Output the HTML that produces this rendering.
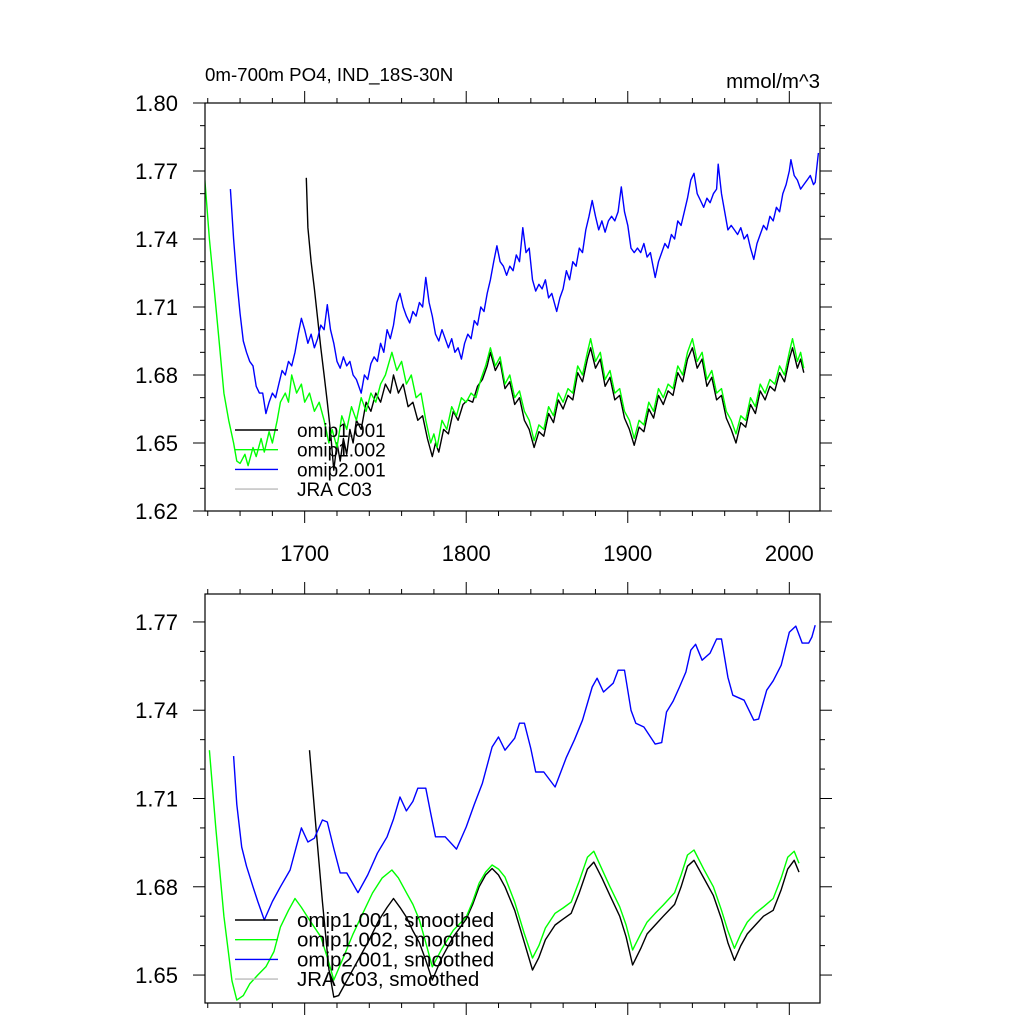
<!DOCTYPE html>
<html><head><meta charset="utf-8"><style>
body{margin:0;background:#fff}
svg{display:block;font-family:"Liberation Sans",sans-serif}
</style></head><body>
<svg id="chart" width="1024" height="1024" xmlns="http://www.w3.org/2000/svg">
<text x="205" y="81" font-size="18.7">0m-700m PO4, IND_18S-30N</text>
<text x="820" y="88" font-size="20.5" text-anchor="end">mmol/m^3</text>
</svg>
<script>
const xTickLabels=["1700","1800","1900","2000"];
const topYTicks=["1.62","1.65","1.68","1.71","1.74","1.77","1.80"];
const botYTicks=["1.65","1.68","1.71","1.74","1.77"];
const topLegend=["omip1.001","omip1.002","omip2.001","JRA C03"];
const botLegend=["omip1.001, smoothed","omip1.002, smoothed","omip2.001, smoothed","JRA C03, smoothed"];

const greenTopYears=[1638,1641,1644,1647,1650,1653,1656,1658,1660,1663,1665,1668,1670,1673,1675,1678,1680,1683,1685,1688,1690,1692,1695,1698,1700,1703,1706,1709,1712,1715,1717,1720,1723,1726,1729,1732,1735,1738,1741,1744,1747,1750,1754,1757,1760,1763,1766,1769,1772,1775,1778,1780,1782,1785,1788,1791,1794,1797,1800,1803,1806,1809,1812,1815,1818,1821,1824,1827,1830,1833,1836,1839,1842,1845,1848,1851,1854,1857,1860,1863,1866,1869,1872,1875,1877,1880,1883,1886,1889,1892,1895,1898,1901,1904,1907,1910,1913,1916,1919,1922,1925,1928,1931,1934,1937,1940,1943,1946,1949,1952,1955,1958,1961,1964,1967,1970,1973,1976,1979,1982,1985,1988,1991,1994,1997,2000,2002,2005,2007,2009];
const greenTopVals=[1.768,1.740,1.718,1.695,1.672,1.660,1.650,1.642,1.641,1.645,1.640,1.648,1.644,1.652,1.646,1.655,1.650,1.660,1.668,1.672,1.668,1.680,1.672,1.676,1.668,1.672,1.664,1.668,1.660,1.650,1.656,1.648,1.662,1.656,1.666,1.660,1.670,1.664,1.672,1.668,1.676,1.680,1.690,1.682,1.686,1.676,1.680,1.670,1.672,1.660,1.650,1.654,1.648,1.660,1.656,1.666,1.662,1.670,1.668,1.672,1.670,1.678,1.684,1.692,1.684,1.688,1.676,1.680,1.670,1.673,1.664,1.660,1.651,1.658,1.656,1.666,1.662,1.672,1.668,1.674,1.672,1.684,1.680,1.690,1.696,1.686,1.690,1.678,1.682,1.672,1.674,1.664,1.660,1.652,1.660,1.658,1.668,1.664,1.674,1.670,1.676,1.674,1.684,1.680,1.690,1.696,1.686,1.690,1.678,1.682,1.672,1.674,1.664,1.660,1.654,1.662,1.660,1.670,1.666,1.676,1.672,1.678,1.676,1.684,1.680,1.690,1.696,1.686,1.690,1.683];

const blackTopYears=[1701,1702,1704,1706,1708,1710,1712,1714,1716,1718,1720,1722,1724,1726,1728,1730,1732,1735,1738,1741,1744,1747,1750,1753,1755,1758,1761,1764,1767,1770,1773,1776,1779,1781,1783,1786,1789,1792,1795,1798,1801,1804,1807,1810,1813,1815,1818,1821,1824,1827,1830,1833,1836,1839,1842,1845,1848,1851,1854,1857,1860,1863,1866,1869,1872,1875,1877,1880,1883,1886,1889,1892,1895,1898,1901,1904,1907,1910,1913,1916,1919,1922,1925,1928,1931,1934,1937,1940,1943,1946,1949,1952,1955,1958,1961,1964,1967,1970,1973,1976,1979,1982,1985,1988,1991,1994,1997,2000,2002,2005,2007,2009];
const blackTopVals=[1.767,1.745,1.730,1.718,1.705,1.692,1.680,1.668,1.655,1.638,1.650,1.642,1.652,1.645,1.656,1.650,1.660,1.656,1.668,1.664,1.672,1.668,1.676,1.672,1.680,1.672,1.676,1.666,1.668,1.660,1.662,1.652,1.644,1.650,1.646,1.656,1.654,1.664,1.660,1.667,1.669,1.668,1.675,1.678,1.684,1.690,1.682,1.686,1.674,1.677,1.667,1.670,1.660,1.656,1.648,1.655,1.653,1.663,1.659,1.669,1.665,1.671,1.669,1.681,1.677,1.687,1.692,1.683,1.687,1.675,1.679,1.669,1.671,1.661,1.656,1.649,1.657,1.655,1.665,1.661,1.671,1.667,1.673,1.671,1.681,1.677,1.687,1.692,1.683,1.687,1.675,1.679,1.669,1.671,1.661,1.656,1.650,1.659,1.657,1.667,1.663,1.673,1.669,1.675,1.673,1.681,1.677,1.687,1.692,1.683,1.687,1.681];

const blueTopYears=[1654,1656,1658,1660,1662,1664,1666,1668,1670,1672,1674,1676,1678,1680,1682,1684,1686,1688,1690,1692,1694,1696,1698,1700,1702,1704,1706,1708,1710,1712,1714,1716,1718,1720,1722,1724,1726,1728,1730,1732,1735,1737,1739,1741,1743,1745,1747,1749,1751,1753,1755,1757,1759,1761,1763,1765,1767,1769,1771,1773,1775,1777,1779,1781,1783,1785,1787,1789,1791,1793,1795,1797,1799,1801,1803,1805,1807,1809,1811,1813,1815,1817,1819,1821,1823,1825,1827,1829,1831,1833,1835,1837,1839,1841,1843,1845,1847,1849,1851,1853,1856,1858,1860,1862,1864,1866,1868,1870,1872,1874,1876,1878,1880,1882,1884,1886,1888,1890,1892,1894,1896,1898,1900,1902,1904,1906,1908,1910,1912,1914,1917,1919,1921,1923,1925,1927,1929,1931,1933,1935,1937,1939,1941,1943,1945,1947,1949,1951,1953,1955,1956,1958,1960,1962,1964,1966,1968,1970,1972,1974,1976,1978,1980,1982,1984,1986,1988,1990,1992,1994,1996,1998,2000,2001,2003,2005,2007,2009,2011,2013,2015,2016,2018];
const blueTopVals=[1.762,1.740,1.722,1.707,1.695,1.690,1.686,1.684,1.675,1.672,1.672,1.663,1.668,1.672,1.670,1.676,1.682,1.680,1.686,1.684,1.690,1.698,1.705,1.700,1.694,1.698,1.692,1.696,1.702,1.700,1.711,1.700,1.694,1.686,1.683,1.688,1.684,1.686,1.680,1.678,1.672,1.680,1.678,1.685,1.688,1.686,1.694,1.690,1.700,1.696,1.702,1.712,1.716,1.710,1.706,1.703,1.708,1.706,1.712,1.710,1.723,1.712,1.706,1.698,1.695,1.700,1.696,1.692,1.696,1.690,1.692,1.687,1.694,1.698,1.696,1.704,1.702,1.710,1.708,1.716,1.722,1.730,1.737,1.730,1.728,1.724,1.728,1.726,1.733,1.730,1.745,1.734,1.736,1.722,1.717,1.720,1.718,1.722,1.714,1.716,1.708,1.714,1.718,1.726,1.722,1.730,1.728,1.736,1.734,1.744,1.750,1.757,1.750,1.744,1.748,1.743,1.748,1.750,1.748,1.752,1.763,1.752,1.746,1.736,1.734,1.736,1.734,1.738,1.732,1.734,1.723,1.730,1.734,1.738,1.736,1.742,1.740,1.748,1.746,1.752,1.758,1.766,1.769,1.760,1.757,1.754,1.758,1.756,1.760,1.762,1.773,1.760,1.752,1.744,1.746,1.744,1.742,1.745,1.740,1.742,1.736,1.731,1.738,1.742,1.746,1.744,1.750,1.748,1.754,1.752,1.760,1.764,1.770,1.775,1.768,1.766,1.762,1.764,1.766,1.768,1.764,1.765,1.778];

const greenBotYears=[1641,1645,1650,1655,1658,1662,1666,1671,1676,1681,1685,1690,1694,1698,1703,1710,1714,1718,1724,1730,1736,1742,1748,1754,1758,1763,1767,1771,1775,1779,1785,1792,1800,1804,1808,1812,1816,1820,1824,1830,1836,1841,1845,1849,1855,1860,1865,1870,1875,1879,1884,1889,1895,1899,1903,1908,1912,1917,1922,1929,1933,1937,1941,1947,1953,1958,1962,1966,1970,1974,1979,1984,1990,1995,1999,2003,2006];
const greenBotVals=[1.7264,1.700,1.670,1.648,1.6415,1.643,1.647,1.650,1.6528,1.658,1.6663,1.672,1.676,1.673,1.6687,1.663,1.656,1.6483,1.656,1.664,1.671,1.6779,1.683,1.6857,1.683,1.678,1.674,1.6687,1.661,1.6528,1.659,1.6652,1.6697,1.675,1.6812,1.685,1.6874,1.686,1.6833,1.6748,1.664,1.6558,1.660,1.666,1.671,1.6728,1.6748,1.682,1.690,1.6921,1.686,1.680,1.6732,1.667,1.6585,1.664,1.668,1.671,1.6738,1.678,1.684,1.6908,1.6925,1.686,1.680,1.672,1.665,1.6591,1.664,1.668,1.671,1.6732,1.676,1.683,1.690,1.6921,1.688];

const blackBotYears=[1703,1707,1711,1715,1718,1721,1726,1730,1734,1740,1746,1751,1755,1759,1763,1767,1771,1775,1779,1785,1792,1800,1804,1808,1812,1816,1820,1824,1830,1836,1841,1845,1849,1855,1860,1865,1870,1875,1879,1884,1889,1895,1899,1903,1908,1912,1917,1922,1929,1933,1937,1941,1947,1953,1958,1962,1966,1970,1974,1979,1984,1990,1995,1999,2003,2006];
const blackBotVals=[1.7264,1.700,1.675,1.652,1.6425,1.643,1.648,1.652,1.656,1.662,1.6687,1.673,1.676,1.673,1.6697,1.665,1.661,1.655,1.6483,1.656,1.663,1.6690,1.674,1.680,1.684,1.6862,1.684,1.680,1.672,1.661,1.6517,1.656,1.662,1.667,1.669,1.671,1.678,1.686,1.6884,1.683,1.677,1.670,1.663,1.6534,1.659,1.664,1.667,1.670,1.674,1.680,1.687,1.689,1.683,1.677,1.669,1.661,1.655,1.660,1.664,1.667,1.670,1.672,1.679,1.686,1.689,1.685];

const blueBotYears=[1656,1658,1661,1664,1668,1671,1675,1680,1685,1691,1695,1698,1702,1706,1711,1714,1718,1722,1726,1733,1739,1745,1751,1755,1759,1763,1767,1770,1775,1778,1781,1787,1794,1800,1805,1810,1816,1820,1824,1830,1833,1836,1840,1843,1848,1855,1862,1867,1872,1878,1881,1885,1891,1894,1898,1902,1905,1910,1917,1921,1924,1928,1932,1936,1939,1942,1946,1951,1955,1958,1962,1965,1972,1978,1981,1986,1990,1995,2000,2004,2008,2012,2014,2016];
const blueBotVals=[1.7244,1.708,1.6935,1.687,1.680,1.675,1.6687,1.675,1.680,1.6857,1.694,1.700,1.6952,1.6965,1.7027,1.702,1.693,1.6847,1.6847,1.678,1.684,1.6914,1.697,1.703,1.7105,1.7058,1.709,1.7135,1.7135,1.705,1.697,1.697,1.6928,1.7003,1.708,1.7152,1.7275,1.7309,1.7264,1.7305,1.7356,1.7356,1.727,1.719,1.719,1.7139,1.724,1.730,1.7366,1.7479,1.7509,1.7462,1.7492,1.7536,1.7536,1.740,1.7356,1.7343,1.7285,1.729,1.7394,1.743,1.7479,1.753,1.7604,1.7624,1.757,1.7594,1.7642,1.7642,1.7512,1.7451,1.7434,1.7366,1.737,1.7468,1.750,1.7553,1.7665,1.7686,1.7628,1.7628,1.7649,1.7689];

const svg=document.getElementById('chart');
const NS='http://www.w3.org/2000/svg';
function mk(tag,attrs,parent){const e=document.createElementNS(NS,tag);for(const k in attrs)e.setAttribute(k,attrs[k]);(parent||svg).appendChild(e);return e;}
const X0=205,X1=820,YR0=1638.3,YR1=2019;
function xs(yr){return X0+(yr-YR0)/(YR1-YR0)*(X1-X0);}
function makeY(top,bot,v0,v1){return v=>bot-(v-v0)/(v1-v0)*(bot-top);}

function panel(name,top,bot,v0,v1,yTicks,showXLabels,series,legend,legY,legFont){
  const ys=makeY(top,bot,v0,v1);
  const g=mk('g',{});
  
  
  const clipId=name+'-clip';
  const cp=mk('clipPath',{id:clipId},g);
  mk('rect',{x:X0,y:top,width:X1-X0,height:bot-top},cp);
  const sg=mk('g',{'clip-path':'url(#'+clipId+')'},g);
  series.forEach(s=>{
    const d=s.years.map((yr,i)=>(i?'L':'M')+xs(yr).toFixed(1)+','+ys(s.vals[i]).toFixed(1)).join('');
    const p=mk('path',{d:d,fill:'none',stroke:s.color,'stroke-width':1.4,'stroke-linejoin':'round'},sg);
    
    
  });
  const fr=mk('rect',{x:X0,y:top,width:X1-X0,height:bot-top,fill:'none',stroke:'#000','stroke-width':1.2},g);
  
  
  for(let yr=1640;yr<=2019;yr+=20){
    const major=yr%100===0, L=major?12:5, x=xs(yr);
    mk('line',{x1:x,x2:x,y1:top,y2:top-L,stroke:'#000','stroke-width':1},g);
    mk('line',{x1:x,x2:x,y1:bot,y2:bot+L,stroke:'#000','stroke-width':1},g);
  }
  if(showXLabels){
    xTickLabels.forEach(lbl=>{
      const t=mk('text',{x:xs(+lbl),y:bot+50,'font-size':22,'text-anchor':'middle'},g);
      t.textContent=lbl;
      
      
    });
  }
  const step=0.01;
  for(let v=Math.ceil(v0/step-1e-6)*step;v<=v1+1e-9;v+=step){
    const vv=Math.round(v*100)/100;
    const major=yTicks.includes(vv.toFixed(2)), L=major?12:5, y=ys(vv);
    mk('line',{x1:X0,x2:X0-L,y1:y,y2:y,stroke:'#000','stroke-width':1},g);
    mk('line',{x1:X1,x2:X1+L,y1:y,y2:y,stroke:'#000','stroke-width':1},g);
  }
  yTicks.forEach(lbl=>{
    const t=mk('text',{x:178,y:ys(+lbl)+8,'font-size':22,'text-anchor':'end'},g);
    t.textContent=lbl;
    
    
  });
  const cols=['#000','#00ff00','#0000ff','#bbbbbb'];
  legend.forEach((lbl,i)=>{
    const y=legY+i*19.7;
    const ln=mk('line',{x1:235,x2:278,y1:y,y2:y,stroke:cols[i],'stroke-width':1.4},g);
    
    
    const t=mk('text',{x:297,y:y+7,'font-size':legFont},g);
    t.textContent=lbl;
    
    
  });
}
panel('top-panel',103,511,1.62,1.80,topYTicks,true,[
  {name:'omip1-001-line',color:'#000',years:blackTopYears,vals:blackTopVals},
  {name:'omip1-002-line',color:'#00ff00',years:greenTopYears,vals:greenTopVals},
  {name:'omip2-001-line',color:'#0000ff',years:blueTopYears,vals:blueTopVals}
],topLegend,430,19);
panel('bottom-panel',594,1003,1.6405,1.7795,botYTicks,false,[
  {name:'omip1-001-smoothed-line',color:'#000',years:blackBotYears,vals:blackBotVals},
  {name:'omip1-002-smoothed-line',color:'#00ff00',years:greenBotYears,vals:greenBotVals},
  {name:'omip2-001-smoothed-line',color:'#0000ff',years:blueBotYears,vals:blueBotVals}
],botLegend,920,20.5);
</script>
</body></html>
